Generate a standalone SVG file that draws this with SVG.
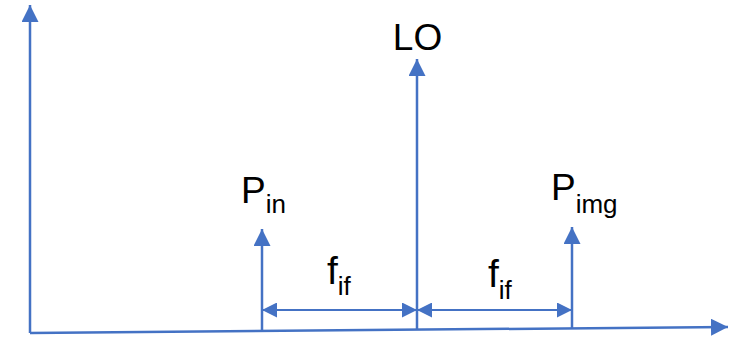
<svg xmlns="http://www.w3.org/2000/svg" width="729" height="338" viewBox="0 0 729 338">
<defs>
<style>
.ln{stroke:#4472C4;stroke-width:2.5;fill:none}
.dim{stroke:#4472C4;stroke-width:2.2;fill:none}
.t{font-family:"Liberation Sans",Arial,sans-serif;fill:#000}
.big{font-size:37px}
.sub{font-size:26px}
.fbig{font-size:39px}
</style>
<marker id="ah" markerUnits="userSpaceOnUse" markerWidth="18" markerHeight="17" refX="17" refY="8.5" orient="auto-start-reverse" viewBox="0 0 18 17">
<path d="M0,0 L17,8.5 L0,17 z" fill="#4472C4"/>
</marker>
<marker id="ad" markerUnits="userSpaceOnUse" markerWidth="16" markerHeight="15" refX="15" refY="7.5" orient="auto-start-reverse" viewBox="0 0 16 15">
<path d="M0,0 L15,7.5 L0,15 z" fill="#4472C4"/>
</marker>
</defs>
<g id="connectors">
<line id="y-axis" class="ln" x1="30" y1="333" x2="30" y2="5" marker-end="url(#ah)"/>
<line id="x-axis" class="ln" x1="30" y1="333" x2="728" y2="327" marker-end="url(#ah)"/>
<line id="dim-left" class="dim" x1="262" y1="310" x2="417" y2="310" marker-start="url(#ad)" marker-end="url(#ad)"/>
<line id="dim-right" class="dim" x1="417" y1="310" x2="572" y2="310" marker-start="url(#ad)" marker-end="url(#ad)"/>
</g>
<g id="LO">
<line class="ln" x1="417" y1="330" x2="417" y2="59" marker-end="url(#ah)"/>
<text class="t big" x="417.5" y="50" text-anchor="middle">LO</text>
</g>
<g id="Pin">
<line class="ln" x1="262" y1="331" x2="262" y2="229" marker-end="url(#ah)"/>
<text class="t big" x="241" y="203">P<tspan class="sub" dy="10">in</tspan></text>
</g>
<g id="Pimg">
<line class="ln" x1="572" y1="329" x2="572" y2="227" marker-end="url(#ah)"/>
<text class="t big" x="551" y="200">P<tspan class="sub" dy="13">img</tspan></text>
</g>
<g id="fif-left">
<text class="t fbig" x="327" y="284">f<tspan class="sub" dy="11">if</tspan></text>
</g>
<g id="fif-right">
<text class="t fbig" x="488" y="287">f<tspan class="sub" dy="12">if</tspan></text>
</g>
</svg>
